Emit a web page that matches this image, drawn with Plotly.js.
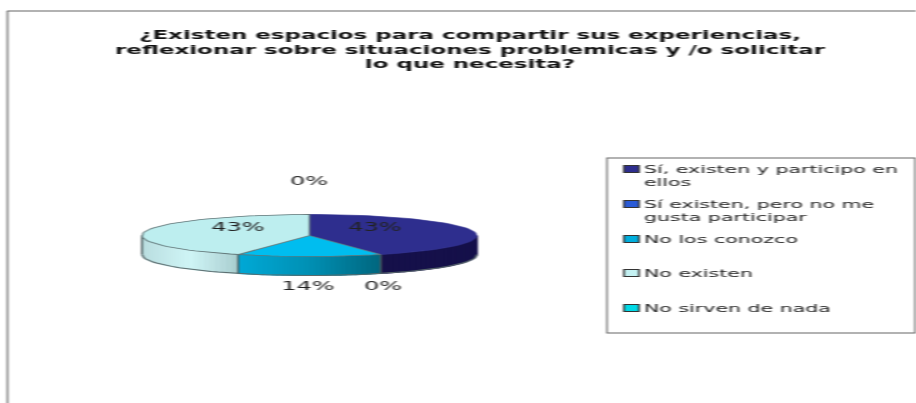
<!DOCTYPE html>
<html><head><meta charset="utf-8">
<script src="https://cdn.plot.ly/plotly-3.0.1.min.js"></script>
<style>
html,body{margin:0;padding:0;background:#fff;overflow:hidden;width:916px;height:403px}
#chart{width:495px;height:403px;transform:scaleX(1.8505);transform-origin:0 0;filter:blur(0.5px)}
</style></head><body><div id="chart"></div>
<script>
const titleText = "¿Existen espacios para compartir sus experiencias,<br>reflexionar sobre situaciones problemicas y /o solicitar<br>lo que necesita?";
const categories = ["Sí, existen y participo en<br>ellos","Sí existen, pero no me<br>gusta participar","No los conozco","No existen","No sirven de nada"];
const values = [43,0,14,43,0];
const topColors = ["#2E2E8E","#2A5BD7","#00BDEF","#BDEEEF","#00D9E6"];
const swatchColors = ["#2E2E8E","#2A5BD7","#00AEDD","#C4F1F2","#00D9E6"];
const wallLeft = ["#15104A","#15104A","#00A9D6","#B9DDDF","#00A0A8"];
const wallMid = ["#15104A","#15104A","#0090B4","#CFF5F6","#00A0A8"];
const wallRight = ["#15104A","#15104A","#00667E","#A9CDCF","#00A0A8"];
const labelSpots = [[375,228],[383,287],[308,287],[238,228],[309,182]];
const legendTextY = [162,197,232,266,301];

const cx=309.5, cy=235.5, rx=167.5, ry=21, depth=19, STEP=3, STRIPS=28;
const px=a=>cx+rx*Math.sin(a*Math.PI/180);
const py=a=>cy-ry*Math.cos(a*Math.PI/180);
const hex=c=>[1,3,5].map(i=>parseInt(c.substr(i,2),16));
const mix=(a,b,t)=>{const A=hex(a),B=hex(b);return 'rgb('+A.map((v,i)=>Math.round(v+(B[i]-v)*t)).join(',')+')';};
const arc=(a,b)=>{const r=[];const n=Math.max(1,Math.ceil((b-a)/STEP));for(let i=0;i<=n;i++)r.push(a+(b-a)*i/n);return r;};

const total=values.reduce((s,v)=>s+v,0);
const traces=[];
let start=0;
const spans=values.map(v=>{const s=[start,start+v/total*360];start=s[1];return s;});

spans.forEach(([a,b],k)=>{
  const lo=Math.max(a,90), hi=Math.min(b,270);
  if(hi<=lo) return;
  const xa=px(hi), xb=px(lo);
  for(let i=0;i<STRIPS;i++){
    const s=lo+(hi-lo)*i/STRIPS, e=lo+(hi-lo)*(i+1)/STRIPS;
    const t=((px(s)+px(e))/2-xa)/(xb-xa);
    const col=t<0.5?mix(wallLeft[k],wallMid[k],t*2):mix(wallMid[k],wallRight[k],(t-0.5)*2);
    const pts=arc(s,e), rev=pts.slice().reverse();
    traces.push({type:'scatter',mode:'lines',fill:'toself',fillcolor:col,
      line:{color:col,width:1},hoverinfo:'skip',showlegend:false,
      x:pts.map(px).concat(rev.map(px)),
      y:pts.map(a=>py(a)).concat(rev.map(a=>py(a)+depth))});
  }
});
traces.push({type:'scatter',mode:'lines',hoverinfo:'skip',showlegend:false,line:{color:'#5a6a6c',width:1},
  x:arc(90,270).map(px),y:arc(90,270).map(a=>py(a)+depth)});
[spans[2][0],spans[2][1],270].forEach(a=>traces.push({type:'scatter',mode:'lines',hoverinfo:'skip',showlegend:false,
  line:{color:'#4a5a5c',width:1},x:[px(a),px(a)],y:[py(a),py(a)+depth]}));

spans.forEach(([a,b],k)=>{
  if(b<=a) return;
  const pts=arc(a,b);
  traces.push({type:'scatter',mode:'lines',fill:'toself',fillcolor:topColors[k],
    line:{color:k===0?topColors[0]:'#5f7476',width:k===0?0.5:0.8},name:categories[k],showlegend:false,hoverinfo:'skip',
    x:[cx].concat(pts.map(px),[cx]),y:[cy].concat(pts.map(py),[cy])});
});

traces.push({type:'scatter',mode:'text',hoverinfo:'skip',showlegend:false,
  x:labelSpots.map(p=>p[0]),y:labelSpots.map(p=>p[1]),
  text:values.map(v=>v+'%'),textposition:'middle center',
  textfont:{family:'DejaVu Sans',size:13,color:'#222'}});

const shapes=[
 {type:'line',xref:'x',yref:'y',x0:7.5,x1:7.5,y0:11,y1:403,line:{color:'#777',width:1}},
 {type:'line',xref:'x',yref:'y',x0:7,x1:916,y0:11,y1:11,line:{color:'#666',width:1}},
 {type:'rect',xref:'x',yref:'y',x0:607,x1:915,y0:158,y1:333,line:{color:'#666',width:0.8},fillcolor:'#fff',layer:'below'}
];
const swatchY=[169,204,239,273,308];
const annotations=[];
categories.forEach((c,k)=>{
  shapes.push({type:'rect',xref:'x',yref:'y',x0:624,x1:639,y0:swatchY[k]-3.5,y1:swatchY[k]+3.5,
    fillcolor:swatchColors[k],line:{color:'#333',width:1}});
  annotations.push({xref:'x',yref:'y',x:642,y:legendTextY[k],xanchor:'left',yanchor:'top',align:'left',
    showarrow:false,text:c,borderpad:0,font:{family:'DejaVu Sans',size:11.1,color:'#222'}});
});

Plotly.newPlot('chart',traces,{
  width:495,height:403,margin:{l:0,r:0,t:0,b:0},paper_bgcolor:'#fff',plot_bgcolor:'#fff',showlegend:false,
  title:{text:titleText,x:470/916,xanchor:'center',y:1-39/403,yanchor:'middle',
    font:{family:'DejaVu Sans',size:12.4,color:'#111',weight:'bold'}},
  xaxis:{range:[0,916],visible:false,fixedrange:true},
  yaxis:{range:[403,0],visible:false,fixedrange:true},
  shapes,annotations
},{displayModeBar:false,staticPlot:true}).then(gd=>{
  const tighten=(sel,pitch)=>gd.querySelectorAll(sel).forEach(t=>{
    t.querySelectorAll('tspan.line').forEach((l,i)=>l.setAttribute('dy',(i*pitch)+'px'));
  });
  tighten('.gtitle',14.7);
  tighten('.annotation-text',13.5);
});
</script></body></html>
